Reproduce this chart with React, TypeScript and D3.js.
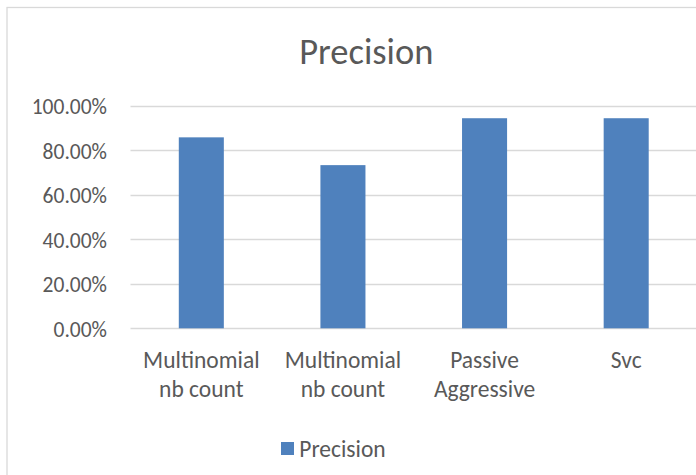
import React from "react";
import * as d3 from "d3";

const categories: string[][] = [
  ["Multinomial", "nb count"],
  ["Multinomial", "nb count"],
  ["Passive", "Aggressive"],
  ["Svc"],
];
const precision: number[] = [0.859, 0.734, 0.945, 0.945];
const yTicks: number[] = [0, 0.2, 0.4, 0.6, 0.8, 1.0];
const seriesName = "Precision";
const chartTitle = "Precision";

const W = 696;
const H = 475;
const FONT = "Calibri, Carlito, Lato, 'Open Sans', sans-serif";
const TEXT = "#595959";
const GRID = "#d9d9d9";
const BAR = "#4f81bd";

export default function App() {
  const idx = categories.map((_, i) => String(i));
  const x = d3
    .scaleBand<string>()
    .domain(idx)
    .range([130.5, 697])
    .paddingInner(0.682)
    .paddingOuter(0.341);
  const y = d3.scaleLinear().domain([0, 1]).range([328.3, 106]);
  const fmt = d3.format(".2%");

  return (
    <svg
      width={W}
      height={H}
      style={{ position: "absolute", left: 0, top: 0, background: "#fff" }}
      fontFamily={FONT}
    >
      <rect x={0} y={0} width={W} height={H} fill="#fff" />
      <rect
        x={7}
        y={7.5}
        width={760}
        height={520}
        fill="#fff"
        stroke={GRID}
        strokeWidth={1.3}
      />
      <text
        x={366.3}
        y={63.8}
        textAnchor="middle"
        fontSize={36.5}
        fontWeight={300}
        fill={TEXT}
      >
        {chartTitle}
      </text>
      {yTicks.map((t) => (
        <g key={t}>
          <line
            x1={130.5}
            x2={W}
            y1={Math.round(y(t)) + 0.5}
            y2={Math.round(y(t)) + 0.5}
            stroke={GRID}
            strokeWidth={1.3}
          />
          <text
            x={107}
            y={y(t) + 8.3}
            textAnchor="end"
            fontSize={21.5}
            fontWeight={300}
            fill={TEXT}
          >
            {fmt(t)}
          </text>
        </g>
      ))}
      {precision.map((v, i) => (
        <rect
          key={i}
          x={x(String(i))}
          y={y(v)}
          width={x.bandwidth()}
          height={y(0) - y(v)}
          fill={BAR}
        />
      ))}
      {categories.map((lines, i) => (
        <text
          key={i}
          textAnchor="middle"
          fontSize={23.5}
          fontWeight={300}
          fill={TEXT}
        >
          {lines.map((l, j) => (
            <tspan
              key={j}
              x={(x(String(i)) as number) + x.bandwidth() / 2}
              y={368 + j * 28.5}
            >
              {l}
            </tspan>
          ))}
        </text>
      ))}
      <rect x={281} y={442} width={13} height={13} fill={BAR} />
      <text x={299.3} y={456.5} fontSize={23.5} fontWeight={300} fill={TEXT}>
        {seriesName}
      </text>
    </svg>
  );
}
